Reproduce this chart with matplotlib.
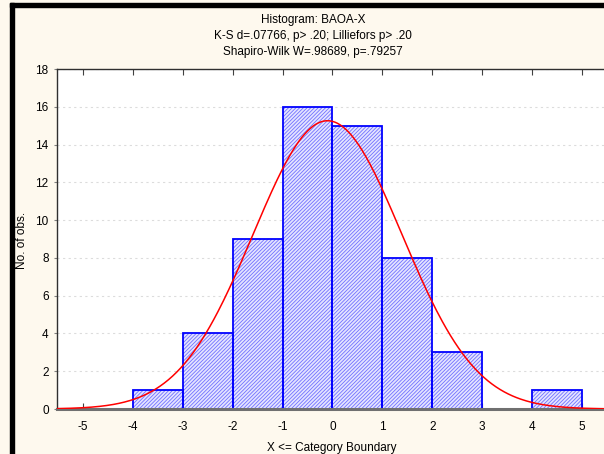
import numpy as np
import matplotlib.pyplot as plt
from matplotlib.patches import Rectangle

plt.rcParams["font.family"] = ["Liberation Sans", "DejaVu Sans"]
plt.rcParams["hatch.linewidth"] = 0.6

# histogram data (unit bins, upper boundary shown on axis)
bin_edges = [-4, -3, -2, -1, 0, 1, 2, 3, 4, 5]
counts = [1, 4, 9, 16, 15, 8, 3, 0, 1]

# fitted normal curve
n_obs = 57
fit_mean = -0.1
fit_sd = 1.49

x_ticks = [-5, -4, -3, -2, -1, 0, 1, 2, 3, 4, 5]
y_ticks = [0, 2, 4, 6, 8, 10, 12, 14, 16, 18]

title_lines = [
    "Histogram: BAOA-X",
    "K-S d=.07766, p> .20; Lilliefors p> .20",
    "Shapiro-Wilk W=.98689, p=.79257",
]

W, H = 604, 454
fig = plt.figure(figsize=(W / 100, H / 100), dpi=100)
fig.patch.set_facecolor("#fef9ee")

# window frame (black, left and top)
fig.patches.append(Rectangle((10 / W, 0), 4 / W, 1 - 3 / H, transform=fig.transFigure,
                             color="black", zorder=0))
fig.patches.append(Rectangle((10 / W, 1 - 7 / H), 1, 4 / H, transform=fig.transFigure,
                             color="black", zorder=0))

ax_l, ax_r, ax_t, ax_b = 57, 606, 69, 409
ax = fig.add_axes([ax_l / W, 1 - ax_b / H, (ax_r - ax_l) / W, (ax_b - ax_t) / H])
ax.set_facecolor("white")

widths = np.diff(bin_edges)
# fine hatch fill, then solid blue outline on top
ax.bar(bin_edges[:-1], counts, width=widths, align="edge",
       facecolor="#e4e4ff", edgecolor="#7070ff", hatch="/////////", linewidth=0, zorder=2)
ax.bar(bin_edges[:-1], counts, width=widths, align="edge",
       fill=False, edgecolor="#0000ff", linewidth=1.3, zorder=2.5)

xs = np.linspace(-5.52, 5.48, 400)
ys = n_obs / (fit_sd * np.sqrt(2 * np.pi)) * np.exp(-0.5 * ((xs - fit_mean) / fit_sd) ** 2)
ax.plot(xs, ys, color="#ff0000", linewidth=1.1, zorder=3)

ax.set_xlim(-5.52, 5.48)
ax.set_ylim(0, 18)
ax.set_xticks(x_ticks)
ax.set_yticks(y_ticks)
ax.set_xticklabels([str(t) for t in x_ticks])
ax.set_yticklabels([str(t) for t in y_ticks])
ax.yaxis.grid(True, color="#dcdcdc", linestyle=(0, (2, 3)), linewidth=0.8)
ax.set_axisbelow(True)

ax.tick_params(axis="x", which="both", direction="in", length=4, top=True, bottom=True,
               labelsize=8.5, pad=9, color="#404040")
ax.tick_params(axis="y", length=2, labelsize=8.5, pad=4, color="#808080")

for s in ["left", "top"]:
    ax.spines[s].set_color("#303030")
    ax.spines[s].set_linewidth(1.0)
ax.spines["right"].set_visible(False)
ax.spines["bottom"].set_color("#707070")
ax.spines["bottom"].set_linewidth(2.2)

ax.set_xlabel("X <= Category Boundary", fontsize=8.5, labelpad=6)
fig.text(22 / W, 1 - 240 / H, "No. of obs.", rotation=90, fontsize=8.5,
         ha="center", va="center")

for i, line in enumerate(title_lines):
    fig.text(313 / W, 1 - (20 + 16 * i) / H, line, fontsize=8.5, ha="center", va="center")

fig.savefig("out.png", dpi=100, facecolor=fig.get_facecolor())
